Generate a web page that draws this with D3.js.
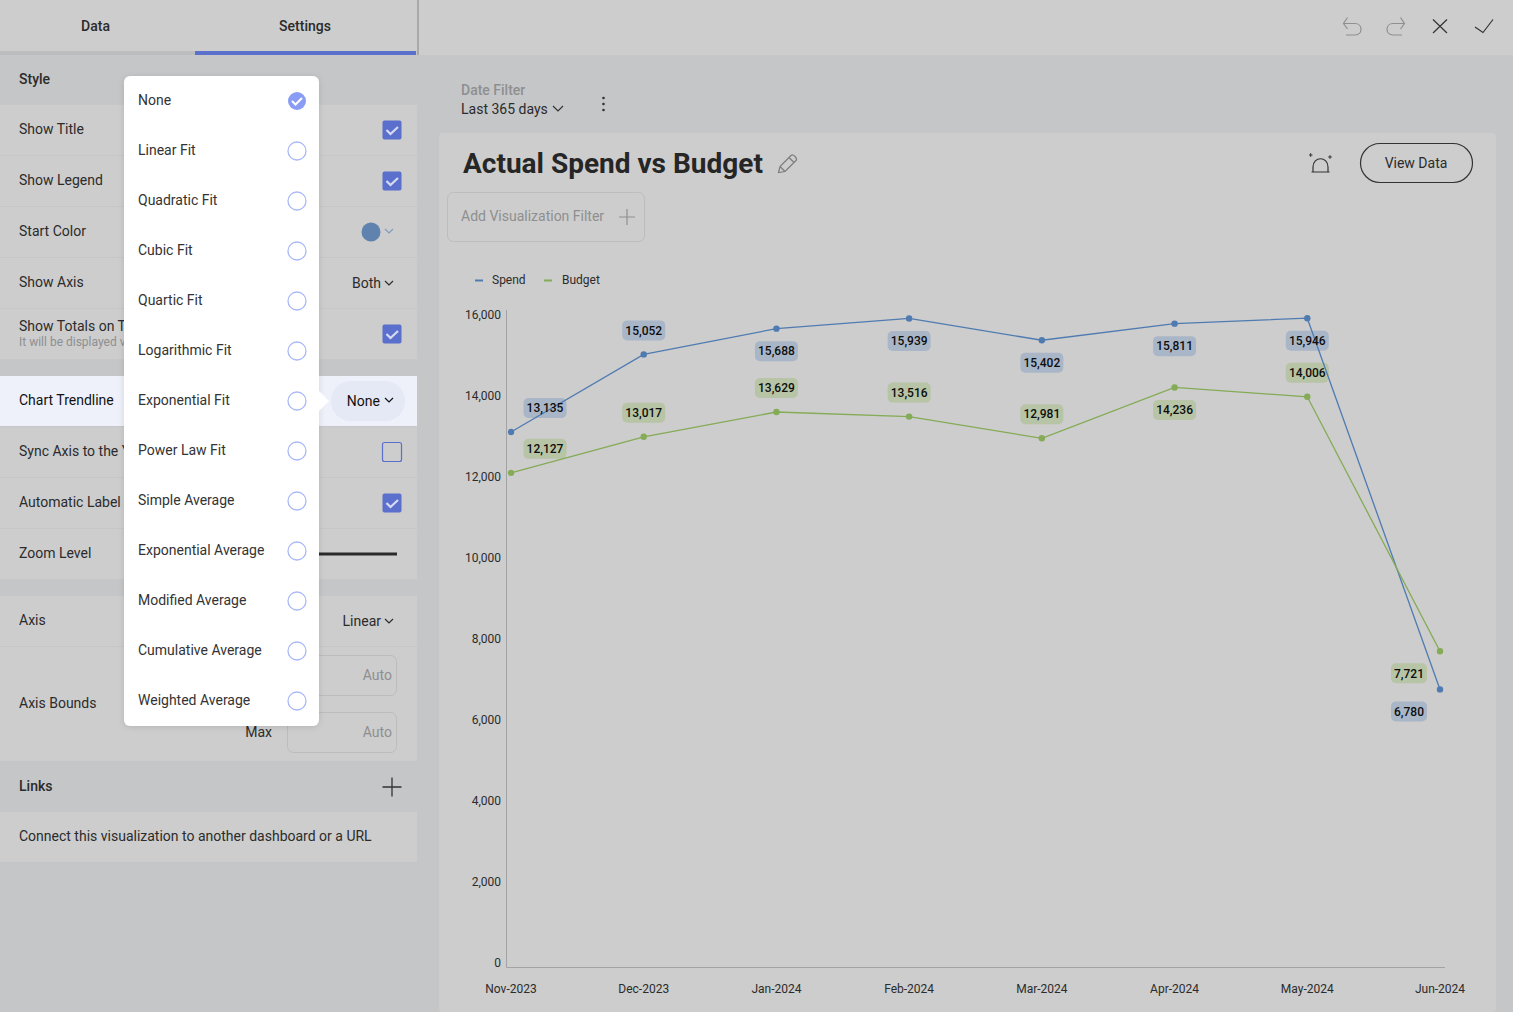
<!DOCTYPE html>
<html>
<head>
<meta charset="utf-8">
<title>Actual Spend vs Budget</title>
<script src="https://cdn.jsdelivr.net/npm/d3@7"></script>
<style>
  html, body { margin: 0; padding: 0; background: #c5c6c8; overflow: hidden; }
  svg { display: block; }
  text { font-family: Roboto, sans-serif; fill: #2b2b2b; }
</style>
</head>
<body>
<div id="viz"></div>
<script>
// chart values
var months = ["Nov-2023", "Dec-2023", "Jan-2024", "Feb-2024", "Mar-2024", "Apr-2024", "May-2024", "Jun-2024"];
var spend = [13135, 15052, 15688, 15939, 15402, 15811, 15946, 6780];
var budget = [12127, 13017, 13629, 13516, 12981, 14236, 14006, 7721];
var yTicks = [0, 2000, 4000, 6000, 8000, 10000, 12000, 14000, 16000];

// settings panel texts
var trendlineOptions = ["None", "Linear Fit", "Quadratic Fit", "Cubic Fit", "Quartic Fit", "Logarithmic Fit",
  "Exponential Fit", "Power Law Fit", "Simple Average", "Exponential Average", "Modified Average",
  "Cumulative Average", "Weighted Average"];
var settingLabels = ["Show Title", "Show Legend", "Start Color", "Show Axis", "Show Totals on T",
  "Chart Trendline", "Sync Axis to the Y", "Automatic Label", "Zoom Level", "Axis", "Axis Bounds"];

var C = {
  page: "#c5c6c8", panel: "#cdcdcd", text: "#2b2b2b", muted: "#8e8f90",
  accent: "#5b6fcc", radio: "#a9b9f6", radioOn: "#8a9df5",
  spend: "#4f7bb1", budget: "#84ab55", spendTag: "#a9b6c8", budgetTag: "#b7c4a5", axis: "#a3a3a3"
};

var svg = d3.select("#viz").append("svg").attr("width", 1513).attr("height", 1012);

function rect(x, y, w, h, fill, r) {
  return svg.append("rect").attr("x", x).attr("y", y).attr("width", w).attr("height", h)
    .attr("rx", r || 0).attr("fill", fill);
}
function label(x, y, str, size, opts) {
  opts = opts || {};
  return svg.append("text").attr("x", x).attr("y", y).attr("dy", "0.35em")
    .attr("text-anchor", opts.anchor || "start")
    .attr("font-weight", opts.weight || 400)
    .style("font-size", size + "px")
    .style("fill", opts.color || C.text)
    .text(str);
}
function icon(d, stroke, width) {
  return svg.append("path").attr("d", d).attr("fill", "none")
    .attr("stroke", stroke || C.text).attr("stroke-width", width || 1.2);
}
function chevron(x, y, color) {
  icon("M" + (x - 4) + "," + (y - 2) + "L" + x + "," + (y + 2) + "L" + (x + 4) + "," + (y - 2), color || C.text, 1.2);
}
function checkbox(y, on) {
  if (on) {
    rect(382.5, y - 9.5, 19, 19, C.accent, 2);
    icon("M386.5," + y + "l4,4l7.5,-7", "#d7dbf0", 2.2);
  } else {
    rect(382.5, y - 9.5, 19, 19, "none", 2).attr("stroke", C.accent).attr("stroke-width", 1.2);
  }
}

/*
* Settings panel on the left
*/
function drawSidebar() {
  // tabs
  rect(0, 0, 417, 51, C.panel);
  rect(0, 51, 195, 4, "#bcbdbe");
  rect(195, 51, 221, 4, C.accent);
  rect(417, 0, 2, 55, "#a9a9a9");
  label(95.5, 26, "Data", 14, { anchor: "middle", weight: 500 });
  label(305, 26, "Settings", 14, { anchor: "middle", weight: 500 });

  label(19, 79, "Style", 14, { weight: 500 });

  // rows, light bands on the darker page
  var bands = [[105, 50], [156, 50], [207, 50], [258, 50], [309, 50], [427, 50], [478, 50], [529, 50],
    [596, 50], [647, 114], [812, 50]];
  bands.forEach(function (b) { rect(0, b[0], 417, b[1], C.panel); });
  rect(0, 376, 417, 50, "#eef1fa");

  var rowY = [129, 180, 231, 282, 326, 400, 451, 502, 553, 620, 703];
  settingLabels.forEach(function (s, i) {
    label(19, rowY[i], s, 14, { color: s === "Chart Trendline" ? "#111" : C.text });
  });
  label(19, 342, "It will be displayed v", 12, { color: C.muted });

  checkbox(130, true);
  checkbox(181, true);
  checkbox(334, true);
  checkbox(452, false);
  checkbox(503, true);

  svg.append("circle").attr("cx", 371).attr("cy", 232).attr("r", 9.5).attr("fill", "#5f83ae");
  chevron(389, 231, "#7f9cc0");
  label(381, 283, "Both", 14, { anchor: "end" });
  chevron(389, 283);

  rect(331, 381, 74, 40, "#e5e8f5", 20);
  label(380, 401, "None", 14, { anchor: "end", color: "#111" });
  chevron(389, 400, "#111");

  icon("M319,554H397", "#2a2a2a", 2.8);
  label(381, 621, "Linear", 14, { anchor: "end" });
  chevron(389, 621);

  [655.5, 712.5].forEach(function (y) {
    rect(287.5, y, 109, 40, "none", 6).attr("stroke", "#bcbcbc");
    label(392, y + 20, "Auto", 14, { anchor: "end", color: C.muted });
  });
  label(272, 732, "Max", 14, { anchor: "end" });

  label(19, 786, "Links", 14, { weight: 500 });
  icon("M382.5,787H401.5M392,777.5V796.5", "#333", 1.3);
  label(19, 836, "Connect this visualization to another dashboard or a URL", 14);
}

/*
* Trendline dropdown that sits on top of the panel
*/
function drawDropdown() {
  var shadow = svg.append("defs").append("filter").attr("id", "soft")
    .attr("x", "-10%").attr("y", "-5%").attr("width", "120%").attr("height", "110%");
  shadow.append("feDropShadow").attr("dx", 0).attr("dy", 1).attr("stdDeviation", 3)
    .attr("flood-color", "#000").attr("flood-opacity", 0.12);

  rect(124, 76, 195, 650, "#fff", 6).attr("filter", "url(#soft)");
  svg.append("path").attr("d", "M319,391L329,401L319,411Z").attr("fill", "#fff");

  var items = svg.append("g").selectAll("g").data(trendlineOptions).join("g")
    .attr("transform", function (d, i) { return "translate(0," + (100 + i * 50) + ")"; });

  items.append("text").attr("x", 138).attr("dy", "0.35em")
    .style("font-size", "14px").style("fill", "#333")
    .text(function (d) { return d; });

  items.append("circle").attr("cx", 297).attr("cy", 1).attr("r", 9)
    .attr("fill", function (d, i) { return i === 0 ? C.radioOn : "#fff"; })
    .attr("stroke", function (d, i) { return i === 0 ? "none" : C.radio; })
    .attr("stroke-width", 1.3);

  icon("M292,101l3.5,3.5l6.5,-6.5", "#fff", 2);
}

/*
* Header bar and the frame around the chart
*/
function drawFrame() {
  rect(419, 0, 1094, 55, C.panel);
  rect(439, 133, 1057, 879, C.panel, 4);

  // undo, redo, cancel, accept
  icon("M1347.5,17.5L1343.5,23.5L1347.5,29M1343.5,23.5H1355C1363,23.5 1363,35 1355,35H1346", "#8f8f8f");
  icon("M1400.5,17.5L1404.5,23.5L1400.5,29M1404.5,23.5H1393C1385,23.5 1385,35 1393,35H1402", "#8f8f8f");
  icon("M1433,19.5L1447,33M1447,19.5L1433,33", "#333");
  icon("M1475,27L1483,32.5L1493,19.5", "#333");

  label(461, 90, "Date Filter", 14, { weight: 500, color: C.muted });
  label(461, 109, "Last 365 days", 14, { color: C.text });
  icon("M553,106L558,111L563,106", "#333");
  svg.append("g").selectAll("circle").data([98, 104, 110]).join("circle")
    .attr("cx", 603.5).attr("cy", function (d) { return d; }).attr("r", 1.3).attr("fill", "#333");

  label(463, 163, "Actual Spend vs Budget", 28, { weight: 700, color: "#262626" });
  icon("M778.5,172.5L780,166.5L791,155.5C793,153.5 798,158.5 796,160.5L785,171.5ZM780,166.5L785,171.5M789,157.5L794,162.5", "#7d7d7d");

  rect(447.5, 192.5, 197, 49, "none", 6).attr("stroke", "#bdbdbd");
  label(461, 216, "Add Visualization Filter", 14, { color: C.muted });
  icon("M619,217H635M627,209V225", "#8f8f8f", 1.2);

  // alert icon
  icon("M1313,172V167C1313,156 1328,156 1328,167V172ZM1311.5,172H1329.5", "#333", 1.2);
  icon("M1309,155H1312.5M1310.7,153.2V156.8M1328.2,157H1331.8M1330,155.2V158.8", "#333", 1);

  rect(1360.5, 143.5, 112, 39, "none", 19.5).attr("stroke", "#333").attr("stroke-width", 1.2);
  label(1416, 163, "View Data", 14, { anchor: "middle" });
}

/*
* The line chart itself
*/
function drawChart() {
  var x = d3.scalePoint().domain(months).range([511, 1440]);
  var y = d3.scaleLinear().domain([0, 16000]).range([964, 316]);

  // axes
  var yAxis = d3.axisLeft(y).tickValues(yTicks).tickSize(0).tickPadding(0).tickFormat(d3.format(","));
  var gy = svg.append("g").attr("transform", "translate(501,-1)").call(yAxis);
  gy.select(".domain").remove();
  gy.selectAll("text").style("font-size", "12px").style("font-family", "Roboto, sans-serif").attr("fill", null);

  var xAxis = d3.axisBottom(x).tickSize(0).tickPadding(0);
  var gx = svg.append("g").attr("transform", "translate(-0.5,984)").call(xAxis);
  gx.select(".domain").remove();
  gx.selectAll("text").style("font-size", "12px").style("font-family", "Roboto, sans-serif").attr("fill", null);

  icon("M506.5,310V967.5H1445", C.axis, 1);

  // legend
  icon("M475,280.5H483", C.spend, 2);
  label(492, 280, "Spend", 12);
  icon("M544,280.5H552", C.budget, 2);
  label(562, 280, "Budget", 12);

  var line = d3.line()
    .x(function (d, i) { return x(months[i]); })
    .y(function (d) { return y(d); });

  // label side per point: -1 above the point, 1 below it
  var series = [
    { values: spend, color: C.spend, tag: C.spendTag, side: [-1, -1, 1, 1, 1, 1, 1, 1] },
    { values: budget, color: C.budget, tag: C.budgetTag, side: [-1, -1, -1, -1, -1, 1, -1, 1] }
  ];

  function tagPos(d, i, s) {
    var last = i === months.length - 1;
    var dx = i === 0 ? 34 : (last ? -31 : 0);
    var dy = s.side[i] < 0 ? -24 : (last ? 22 : 22.5);
    return "translate(" + (x(months[i]) + dx) + "," + (y(d) + dy) + ")";
  }

  // tag boxes sit under the lines, their numbers on top
  series.forEach(function (s) {
    svg.append("g").selectAll("rect").data(s.values).join("rect")
      .attr("transform", function (d, i) { return tagPos(d, i, s); })
      .attr("x", function (d) { return d < 10000 ? -18 : -21.5; })
      .attr("y", -10)
      .attr("width", function (d) { return d < 10000 ? 36 : 43; })
      .attr("height", 20).attr("rx", 5)
      .attr("fill", s.tag);
  });

  series.forEach(function (s) {
    svg.append("path").attr("d", line(s.values)).attr("fill", "none")
      .attr("stroke", s.color).attr("stroke-width", 1.3);

    svg.append("g").selectAll("circle").data(s.values).join("circle")
      .attr("cx", function (d, i) { return x(months[i]); })
      .attr("cy", function (d) { return y(d); })
      .attr("r", 3.2).attr("fill", s.color);
  });

  series.forEach(function (s) {
    svg.append("g").selectAll("text").data(s.values).join("text")
      .attr("transform", function (d, i) { return tagPos(d, i, s); })
      .attr("text-anchor", "middle").attr("dy", "0.35em")
      .attr("font-weight", 500)
      .style("font-size", "12px").style("fill", "#0d0d0d")
      .text(d3.format(","));
  });
}

drawFrame();
drawSidebar();
drawChart();
drawDropdown();
</script>
</body>
</html>
